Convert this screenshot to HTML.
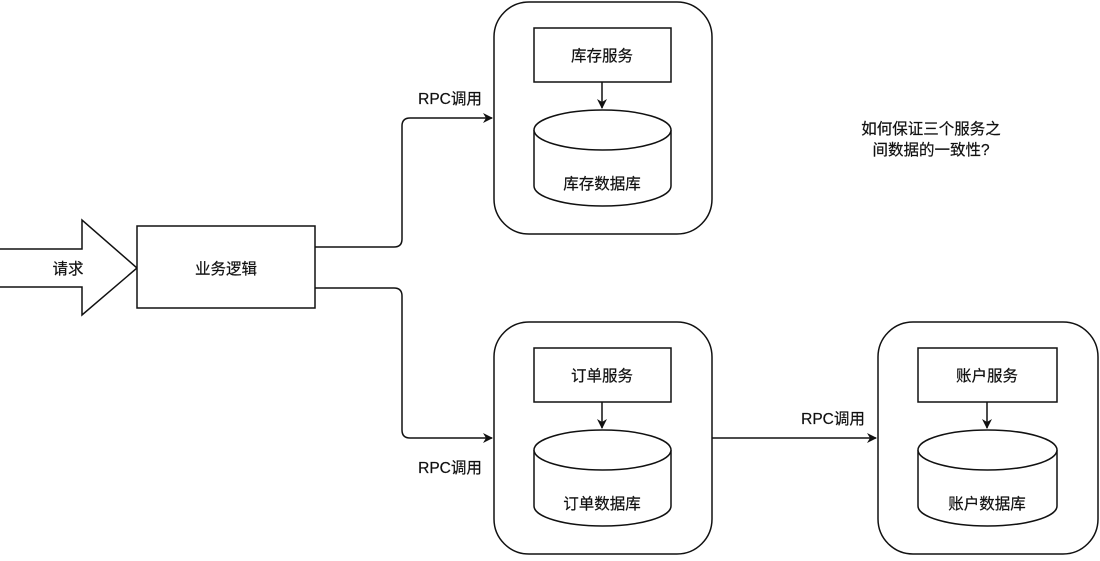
<!DOCTYPE html>
<html><head><meta charset="utf-8"><style>
html,body{margin:0;padding:0;background:#fff;}
svg text{font-family:"Liberation Sans","Noto Sans CJK SC",sans-serif;font-size:15.5px;fill:#111;stroke:#111;stroke-width:0.2px;}
</style></head><body>
<svg width="1100" height="556" viewBox="0 0 1100 556" xmlns="http://www.w3.org/2000/svg">
<defs><marker id="a" markerWidth="10" markerHeight="10" refX="9" refY="5" orient="auto" markerUnits="userSpaceOnUse"><path d="M0,0 L10,5 L0,10 L3,5 z" fill="#111"/></marker></defs>
<g fill="#fff" stroke="#111" stroke-width="1.5">
<path d="M0,249 H82 V220 L137,268 L82,315 V287 H0"/>
<rect x="137" y="226" width="178" height="82"/>
<rect x="494" y="2" width="218" height="232" rx="35"/>
<rect x="494" y="322" width="218" height="232" rx="35"/>
<rect x="878" y="322" width="220" height="232" rx="35"/>
<rect x="534" y="28" width="137" height="54"/>
<rect x="534" y="348" width="137" height="54"/>
<rect x="918" y="348" width="139" height="54"/>
<path d="M534,130 V186 A68.5,20 0 0 0 671,186 V130"/><ellipse cx="602.5" cy="130" rx="68.5" ry="20"/>
<path d="M534,450 V506 A68.5,20 0 0 0 671,506 V450"/><ellipse cx="602.5" cy="450" rx="68.5" ry="20"/>
<path d="M918,450 V506 A69.5,20 0 0 0 1057,506 V450"/><ellipse cx="987.5" cy="450" rx="69.5" ry="20"/>
</g>
<g fill="none" stroke="#111" stroke-width="1.5">
<path d="M315,247 H394 Q402,247 402,239 V126 Q402,118 410,118 H492" marker-end="url(#a)"/>
<path d="M315,288 H394 Q402,288 402,296 V430 Q402,438 410,438 H492" marker-end="url(#a)"/>
<path d="M712,438 H876" marker-end="url(#a)"/>
<path d="M602,82 V108" marker-end="url(#a)"/>
<path d="M602,402 V428" marker-end="url(#a)"/>
<path d="M987,402 V428" marker-end="url(#a)"/>
</g>
<g text-anchor="middle">
<text x="68" y="274">请求</text>
<text x="226" y="274">业务逻辑</text>
<text x="602" y="61">库存服务</text>
<text x="602" y="189">库存数据库</text>
<text x="602" y="381">订单服务</text>
<text x="602" y="509">订单数据库</text>
<text x="987" y="381">账户服务</text>
<text x="987" y="509">账户数据库</text>
<text x="450" y="104">RPC调用</text>
<text x="450" y="473">RPC调用</text>
<text x="833" y="424">RPC调用</text>
<text x="931" y="134">如何保证三个服务之</text>
<text x="931" y="155">间数据的一致性?</text>
</g>
</svg>
</body></html>
